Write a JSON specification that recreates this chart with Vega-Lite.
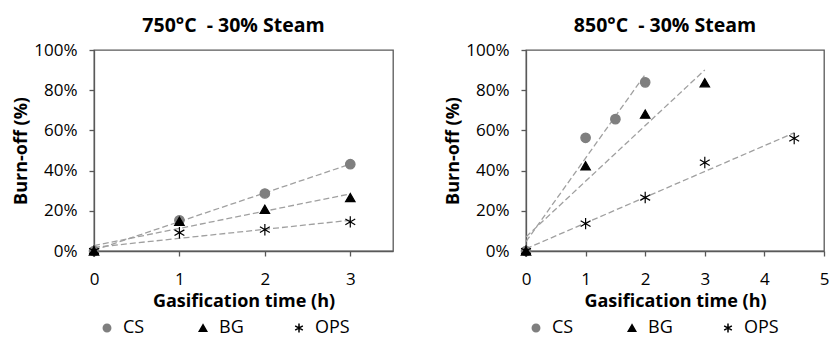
{
  "$schema": "https://vega.github.io/schema/vega-lite/v6.json",
  "background": "white",
  "padding": {"left": 12, "top": 14, "right": 4, "bottom": 0},
  "config": {
    "font": "Open Sans",
    "view": {"stroke": "#595959", "strokeWidth": 1.3},
    "axis": {
      "labelFont": "Open Sans", "labelFontSize": 17, "labelColor": "black", "labelFlush": false,
      "titleFont": "Open Sans", "titleFontSize": 18, "titleFontWeight": "bold", "titleColor": "black",
      "domainColor": "#595959", "domainWidth": 1.3, "tickColor": "#595959", "tickWidth": 1.3,
      "grid": false, "tickSize": 5
    },
    "title": {"font": "Open Sans", "fontSize": 19.5, "fontWeight": "bold", "color": "black", "offset": 5},
    "legend": {
      "orient": "none", "direction": "horizontal", "title": null,
      "labelFont": "Open Sans", "labelFontSize": 18, "labelColor": "black",
      "symbolSize": 55, "labelOffset": 7, "columnPadding": 36, "padding": 0, "gridAlign": "all",
      "legendY": 269
    }
  },
  "datasets": {
    "d750": [
      {"series": "CS", "t": 0, "b": 0.0},
      {"series": "CS", "t": 1, "b": 0.153},
      {"series": "CS", "t": 2, "b": 0.286},
      {"series": "CS", "t": 3, "b": 0.432},
      {"series": "BG", "t": 0, "b": 0.0},
      {"series": "BG", "t": 1, "b": 0.148},
      {"series": "BG", "t": 2, "b": 0.208},
      {"series": "BG", "t": 3, "b": 0.266},
      {"series": "OPS", "t": 0, "b": 0.0},
      {"series": "OPS", "t": 1, "b": 0.091},
      {"series": "OPS", "t": 2, "b": 0.106},
      {"series": "OPS", "t": 3, "b": 0.145}
    ],
    "d850": [
      {"series": "CS", "t": 0, "b": 0.0},
      {"series": "CS", "t": 1, "b": 0.563},
      {"series": "CS", "t": 1.5, "b": 0.656},
      {"series": "CS", "t": 2, "b": 0.839},
      {"series": "BG", "t": 0, "b": 0.0},
      {"series": "BG", "t": 1, "b": 0.424},
      {"series": "BG", "t": 2, "b": 0.681},
      {"series": "BG", "t": 3, "b": 0.837},
      {"series": "OPS", "t": 0, "b": 0.0},
      {"series": "OPS", "t": 1, "b": 0.136},
      {"series": "OPS", "t": 2, "b": 0.266},
      {"series": "OPS", "t": 3, "b": 0.44},
      {"series": "OPS", "t": 4.5, "b": 0.56}
    ]
  },
  "spacing": 50,
  "resolve": {
    "scale": {"x": "independent", "y": "independent"},
    "legend": {"shape": "independent", "fill": "independent", "stroke": "independent"}
  },
  "hconcat": [
    {
      "width": 299,
      "height": 201,
      "title": {"text": "750°C \u00a0- 30% Steam", "dx": -10},
      "data": {"name": "d750"},
      "layer": [
        {
          "transform": [{"regression": "b", "on": "t", "groupby": ["series"]}],
          "mark": {"type": "line", "strokeDash": [6, 3], "color": "#a0a0a0", "strokeWidth": 1.3},
          "encoding": {
            "x": {"field": "t", "type": "quantitative", "scale": {"domain": [0, 3.5], "nice": false}},
            "y": {"field": "b", "type": "quantitative", "scale": {"domain": [0, 1], "nice": false}},
            "detail": {"field": "series"}
          }
        },
        {
          "mark": {"type": "point", "filled": true, "size": 90, "strokeWidth": 1.2, "opacity": 1},
          "encoding": {
            "x": {"field": "t", "type": "quantitative", "scale": {"domain": [0, 3.5], "nice": false},
                  "axis": {"values": [0, 1, 2, 3], "format": "d", "title": "Gasification time (h)", "labelPadding": 15, "titlePadding": 5}},
            "y": {"field": "b", "type": "quantitative", "scale": {"domain": [0, 1], "nice": false},
                  "axis": {"values": [0, 0.2, 0.4, 0.6, 0.8, 1], "format": ".0%", "title": "Burn-off (%)", "labelPadding": 12, "titlePadding": 3}},
            "shape": {"field": "series", "type": "nominal", "legend": {"legendX": 4},
                      "scale": {"domain": ["CS", "BG", "OPS"], "range": ["circle", "triangle-up", "M0,-1.2L0,1.2M-1.04,-0.6L1.04,0.6M-1.04,0.6L1.04,-0.6"]}},
            "fill": {"field": "series", "type": "nominal", "legend": {"legendX": 4},
                     "scale": {"domain": ["CS", "BG", "OPS"], "range": ["#7f7f7f", "#000000", "#000000"]}},
            "stroke": {"field": "series", "type": "nominal", "legend": {"legendX": 4},
                       "scale": {"domain": ["CS", "BG", "OPS"], "range": ["#7f7f7f", "#000000", "#000000"]}}
          }
        }
      ]
    },
    {
      "width": 298,
      "height": 201,
      "title": {"text": "850°C \u00a0- 30% Steam", "dx": -10},
      "data": {"name": "d850"},
      "layer": [
        {
          "transform": [{"regression": "b", "on": "t", "groupby": ["series"]}],
          "mark": {"type": "line", "strokeDash": [6, 3], "color": "#a0a0a0", "strokeWidth": 1.3},
          "encoding": {
            "x": {"field": "t", "type": "quantitative", "scale": {"domain": [0, 5], "nice": false}},
            "y": {"field": "b", "type": "quantitative", "scale": {"domain": [0, 1], "nice": false}},
            "detail": {"field": "series"}
          }
        },
        {
          "mark": {"type": "point", "filled": true, "size": 90, "strokeWidth": 1.2, "opacity": 1},
          "encoding": {
            "x": {"field": "t", "type": "quantitative", "scale": {"domain": [0, 5], "nice": false},
                  "axis": {"values": [0, 1, 2, 3, 4, 5], "format": "d", "title": "Gasification time (h)", "labelPadding": 15, "titlePadding": 5}},
            "y": {"field": "b", "type": "quantitative", "scale": {"domain": [0, 1], "nice": false},
                  "axis": {"values": [0, 0.2, 0.4, 0.6, 0.8, 1], "format": ".0%", "title": "Burn-off (%)", "labelPadding": 12, "titlePadding": 3}},
            "shape": {"field": "series", "type": "nominal", "legend": {"legendX": 1},
                      "scale": {"domain": ["CS", "BG", "OPS"], "range": ["circle", "triangle-up", "M0,-1.2L0,1.2M-1.04,-0.6L1.04,0.6M-1.04,0.6L1.04,-0.6"]}},
            "fill": {"field": "series", "type": "nominal", "legend": {"legendX": 1},
                     "scale": {"domain": ["CS", "BG", "OPS"], "range": ["#7f7f7f", "#000000", "#000000"]}},
            "stroke": {"field": "series", "type": "nominal", "legend": {"legendX": 1},
                       "scale": {"domain": ["CS", "BG", "OPS"], "range": ["#7f7f7f", "#000000", "#000000"]}}
          }
        }
      ]
    }
  ]
}
